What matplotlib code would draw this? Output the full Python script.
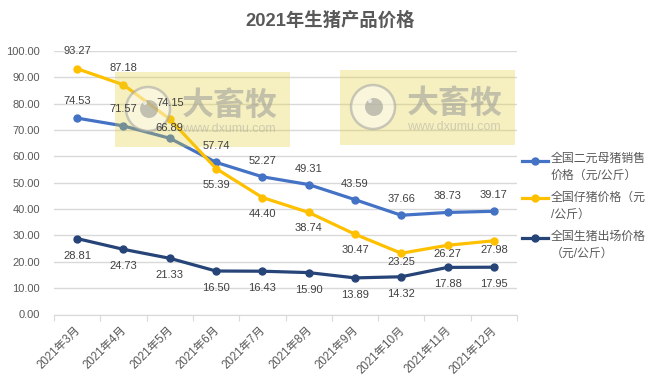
import matplotlib
matplotlib.use('Agg')
from matplotlib import pyplot as plt
from matplotlib.lines import Line2D
from matplotlib.patches import Rectangle, Circle

plt.rcParams['font.family'] = ['Liberation Sans', 'Noto Sans CJK SC']

months = ['2021年3月', '2021年4月', '2021年5月', '2021年6月', '2021年7月',
          '2021年8月', '2021年9月', '2021年10月', '2021年11月', '2021年12月']
sow_price = [74.53, 71.57, 66.89, 57.74, 52.27, 49.31, 43.59, 37.66, 38.73, 39.17]
piglet_price = [93.27, 87.18, 74.15, 55.39, 44.40, 38.74, 30.47, 23.25, 26.27, 27.98]
hog_price = [28.81, 24.73, 21.33, 16.50, 16.43, 15.90, 13.89, 14.32, 17.88, 17.95]
y_ticks = [0, 10, 20, 30, 40, 50, 60, 70, 80, 90, 100]

BLUE = '#4472C4'
YELLOW = '#FFC000'
NAVY = '#264478'
W, H = 659, 380
pos = [54 / W, 1 - 314.5 / H, 463 / W, 263.5 / H]

fig = plt.figure(figsize=(W / 100, H / 100), dpi=100, facecolor='white')
ax = fig.add_axes(pos)

x = list(range(len(months)))
for vals, col in [(sow_price, BLUE), (piglet_price, YELLOW), (hog_price, NAVY)]:
    ax.plot(x, vals, color=col, lw=2.3, marker='o', ms=5, zorder=3)

ax.set_xlim(-0.5, 9.5)
ax.set_ylim(0, 100)
ax.set_yticks(y_ticks)
ax.set_yticklabels(['%.2f' % t for t in y_ticks], fontsize=8, color='#595959')
ax.set_xticks([i - 0.5 for i in range(11)], minor=False)
ax.set_xticklabels([''] * 11)
ax.set_xticks([i - 0.06 for i in x], minor=True)
ax.set_xticklabels(months, minor=True, rotation=45, ha='right', va='top', rotation_mode='anchor',
                   fontsize=8.3, color='#595959')
ax.tick_params(axis='x', which='major', length=4, color='#d9d9d9')
ax.tick_params(axis='x', which='minor', length=0, pad=7)
ax.tick_params(axis='y', length=0, pad=10)
ax.grid(axis='y', color='#d9d9d9', lw=1)
ax.set_axisbelow(True)
for s in ['top', 'right', 'left']:
    ax.spines[s].set_visible(False)
ax.spines['bottom'].set_color('#d9d9d9')

fig.text(330 / W, 1 - 20.5 / H, '2021年生猪产品价格', ha='center', va='center', fontsize=13.2,
         fontweight='bold', color='#595959')

# overlay in pixel coordinates for the watermark and the legend
ov = fig.add_axes([0, 0, 1, 1], facecolor='none', zorder=5)
ov.set_xlim(0, W)
ov.set_ylim(H, 0)
ov.axis('off')

for x0, y0 in [(115, 72), (340, 70)]:
    ov.add_patch(Rectangle((x0, y0), 175, 75, fc='#E3CF2F', ec='none', alpha=0.3))
    ov.add_patch(Circle((x0 + 33, y0 + 37), 22, fc='#ffffff', ec='none', alpha=0.45))
    ov.add_patch(Circle((x0 + 33, y0 + 37), 22, fc='none', ec='#a8a8a4', lw=1.8, alpha=0.6))
    ov.add_patch(Circle((x0 + 34, y0 + 37), 9, fc='#8c8c88', ec='none', alpha=0.5))
    ov.add_patch(Circle((x0 + 30, y0 + 31), 2, fc='#f4f4f0', ec='none', alpha=0.8))
    ov.text(x0 + 115, y0 + 35, '大畜牧', ha='center', va='center', fontsize=23, fontweight='bold',
            color='#a0a09a', alpha=0.6)
    ov.text(x0 + 114, y0 + 57, 'www.dxumu.com', ha='center', va='center', fontsize=9,
            color='#a8a8a0', alpha=0.5)

legend_rows = [(BLUE, 161, 159, '全国二元母猪销售', '价格（元/公斤）'),
               (YELLOW, 198, 198, '全国仔猪价格（元', '/公斤）'),
               (NAVY, 238, 237, '全国生猪出场价格', '（元/公斤）')]
for col, hy, ty, l1, l2 in legend_rows:
    ov.add_line(Line2D([522, 548], [hy, hy], color=col, lw=2.3))
    ov.add_line(Line2D([535], [hy], color=col, marker='o', ms=5))
    ov.text(551, ty, l1, ha='left', va='center', fontsize=8.6, color='#595959')
    ov.text(551, ty + 16.5, l2, ha='left', va='center', fontsize=8.6, color='#595959')

# data labels go above the watermark, offsets in pixels from the point
top = fig.add_axes(pos, facecolor='none', zorder=6)
top.set_xlim(-0.5, 9.5)
top.set_ylim(0, 100)
top.axis('off')
sow_off = [17, 17, 10, 16, 16, 16, 16, 16, 16, 16]
piglet_off = [18, 17, 16, -16, -16, -16, -16, -9, -9, -9]
hog_off = [-17] * 10
for vals, off in [(sow_price, sow_off), (piglet_price, piglet_off), (hog_price, hog_off)]:
    for i, v in enumerate(vals):
        top.annotate('%.2f' % v, (i, v), xytext=(0, off[i] * 0.72), textcoords='offset points',
                     ha='center', va='center', fontsize=8, color='#404040')

fig.savefig('out.png', dpi=100)
